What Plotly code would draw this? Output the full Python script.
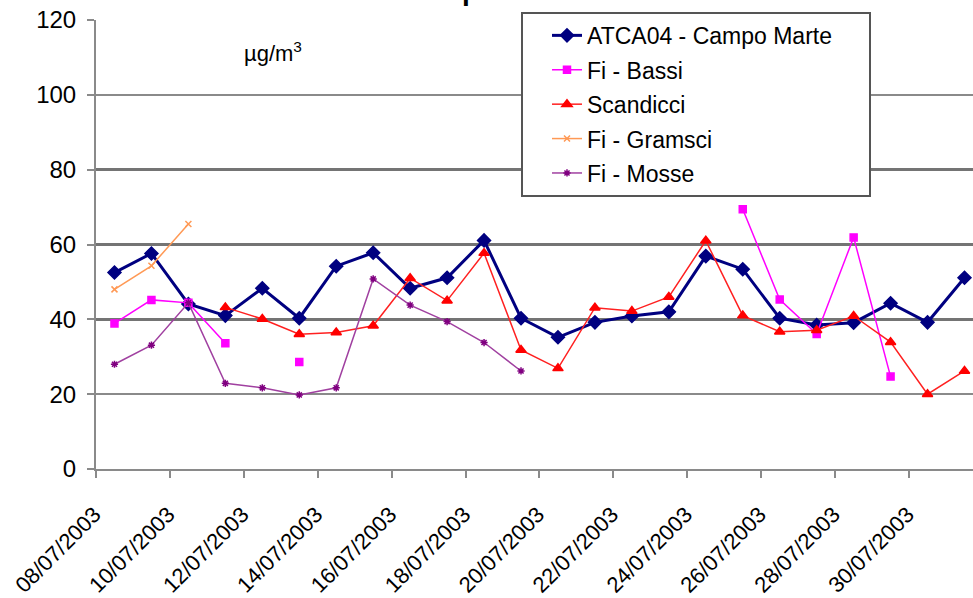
import plotly.graph_objects as go

dates = ["08/07/2003", "09/07/2003", "10/07/2003", "11/07/2003", "12/07/2003", "13/07/2003",
         "14/07/2003", "15/07/2003", "16/07/2003", "17/07/2003", "18/07/2003", "19/07/2003",
         "20/07/2003", "21/07/2003", "22/07/2003", "23/07/2003", "24/07/2003", "25/07/2003",
         "26/07/2003", "27/07/2003", "28/07/2003", "29/07/2003", "30/07/2003", "31/07/2003"]

campo_marte = [52.5, 57.6, 44.1, 41.0, 48.3, 40.3, 54.2, 57.8, 48.3, 51.1, 61.1, 40.3,
               35.2, 39.2, 40.9, 42.0, 56.9, 53.4, 40.3, 38.5, 39.1, 44.3, 39.2, 51.1]
bassi = [38.9, 45.2, 44.4, 33.6, None, 28.6, None, None, None, None, None, None,
         None, None, None, None, None, 69.4, 45.3, 36.1, 61.9, 24.7, None, None]
scandicci = [None, None, None, 43.2, 40.1, 36.0, 36.5, 38.3, 51.0, 45.0, 57.7, 31.8,
             26.9, 43.1, 42.2, 46.0, 61.0, 41.0, 36.7, 37.1, 40.9, 33.9, 20.0, 26.2]
gramsci = [48.0, 54.3, 65.5, None, None, None, None, None, None, None, None, None,
           None, None, None, None, None, None, None, None, None, None, None, None]
mosse = [28.0, 33.1, 44.4, 22.9, 21.7, 19.8, 21.7, 50.8, 43.8, 39.4, 33.8, 26.2,
         None, None, None, None, None, None, None, None, None, None, None, None]

y_ticks = [0, 20, 40, 60, 80, 100, 120]
strong_grid = [40, 60, 80]

FONT = "Liberation Sans, Arial, sans-serif"
AX = "#8a8a8a"
idx = list(range(len(dates)))
PAD = "\u00a0" * 5  # invisible padding so the legend box is as wide as the original

series = [
    ("ATCA04 - Campo Marte" + PAD, campo_marte, "#000080", "#000080", 3, "diamond", 10),
    ("Fi - Bassi", bassi, "#FF00FF", "#FF00FF", 1.5, "square", 7),
    ("Scandicci", scandicci, "#FF2020", "#FF0000", 1.5, "triangle-up", 9),
    ("Fi - Gramsci", gramsci, "#FF9955", "#FF9955", 1.5, "x-thin-open", 6),
    ("Fi - Mosse", mosse, "#A040A0", "#800080", 1.5, "asterisk-open", 6),
]

fig = go.Figure()
for i, (name, vals, lc, mc, lw, sym, ms) in enumerate(series):
    fig.add_trace(go.Scatter(
        x=idx, y=vals, name=name, mode="lines+markers",
        line=dict(color=lc, width=lw),
        marker=dict(symbol=sym, size=ms, color=mc, line=dict(color=mc, width=1.5)),
        connectgaps=False, legendgroup=f"g{i}",
    ))

# helper traces so the extra tick / grid axes are drawn
fig.add_trace(go.Scatter(x=[None], y=[None], xaxis="x2", yaxis="y", showlegend=False, hoverinfo="skip"))
fig.add_trace(go.Scatter(x=[None], y=[None], xaxis="x", yaxis="y2", showlegend=False, hoverinfo="skip"))

xr = [-0.5, 23.23]
fig.update_layout(
    width=973, height=598,
    margin=dict(l=96, r=0, t=20, b=129, autoexpand=False),
    paper_bgcolor="white", plot_bgcolor="white",
    font=dict(family=FONT, color="black"),
    showlegend=True,
    xaxis=dict(
        range=xr, tickvals=idx[::2], ticktext=dates[::2], tickangle=-45,
        ticks="", showgrid=False, zeroline=False, automargin=False,
        showline=True, linecolor=AX, linewidth=2,
        tickfont=dict(size=22, family=FONT, color="black"),
        ticklabelstandoff=22, ticklabelshift=-20,
    ),
    xaxis2=dict(
        overlaying="x", anchor="y", side="bottom", range=xr, automargin=False,
        tickvals=[v - 0.5 for v in idx[::2]], ticks="outside", ticklen=8,
        tickwidth=2, tickcolor=AX, showticklabels=False, showgrid=False,
        zeroline=False, showline=False,
    ),
    yaxis=dict(
        range=[0, 120], tickvals=y_ticks, ticks="outside", ticklen=7,
        tickwidth=2, tickcolor=AX, showline=True, linecolor=AX, linewidth=2,
        showgrid=True, gridcolor=AX, gridwidth=2, zeroline=False, automargin=False,
        tickfont=dict(size=24, family=FONT, color="black"),
        ticklabelstandoff=6,
    ),
    yaxis2=dict(
        overlaying="y", anchor="x", range=[0, 120], tickvals=strong_grid,
        showgrid=True, gridcolor="#747474", gridwidth=3, showticklabels=False,
        ticks="", zeroline=False, showline=False, automargin=False,
    ),
    legend=dict(
        x=0.4846, y=1.018, xanchor="left", yanchor="top",
        bgcolor="white", bordercolor="#555555", borderwidth=2,
        font=dict(size=23, family=FONT, color="black"),
        tracegroupgap=1.5, indentation=24,
    ),
    annotations=[
        dict(
            text="µg/m<sup>3</sup>", xref="paper", yref="paper",
            x=0.1665, y=0.929, xanchor="left", yanchor="middle",
            showarrow=False, font=dict(size=22, family=FONT, color="black"),
        ),
        dict(
            text="<b>p</b>", xref="paper", yref="paper",
            x=0.4150, y=1.0267, xanchor="left", yanchor="bottom",
            showarrow=False, font=dict(size=28, family=FONT, color="black"),
        ),
    ],
)

fig.write_html("out.html")
